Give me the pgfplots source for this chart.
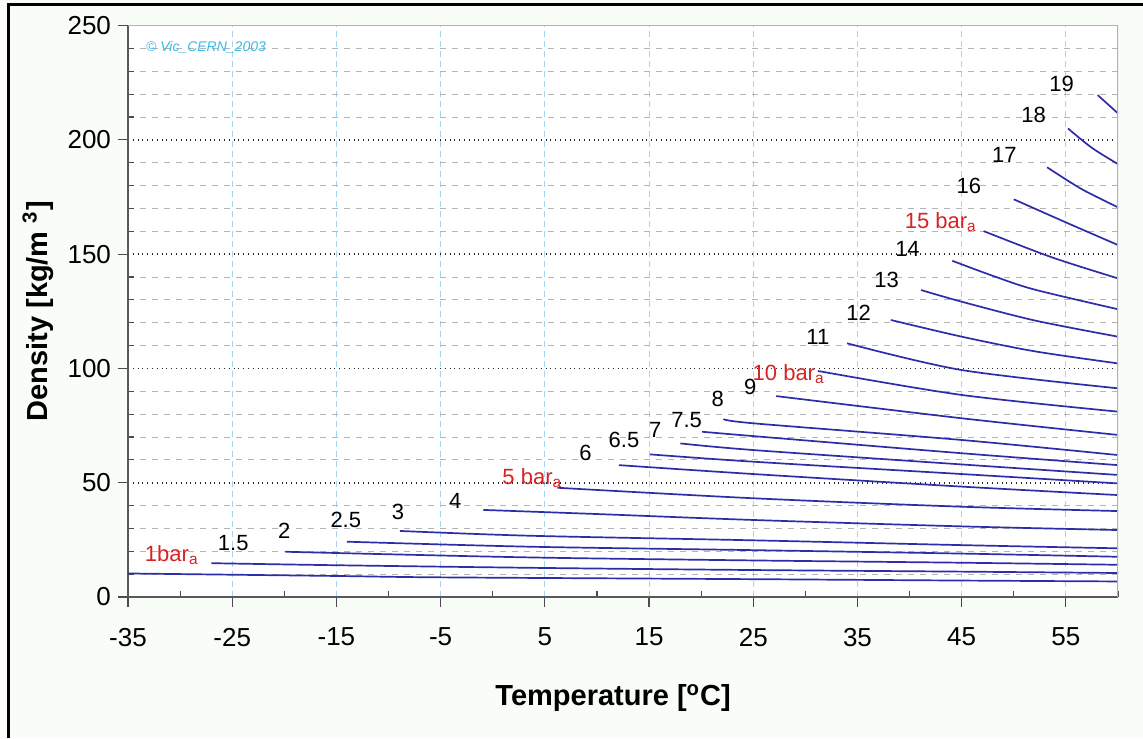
\documentclass[border=0pt]{standalone}
\usepackage{fontspec}
\setmainfont{Liberation Sans}
\usepackage{pgfplots}
\pgfplotsset{compat=1.18}
\definecolor{isoblue}{RGB}{45,45,170}
\definecolor{gridblue}{RGB}{165,212,240}
\definecolor{gridgray}{RGB}{180,180,180}
\definecolor{redlab}{RGB}{215,35,35}
\definecolor{wm}{RGB}{60,185,230}
\definecolor{bgc}{RGB}{249,253,247}
\tikzset{iso/.style={draw=isoblue, line width=0.85pt, solid, mark=none, smooth, tension=0.5}}
\begin{document}
\begin{tikzpicture}
\fill[bgc] (-64pt,-70.5pt) rectangle (507.5pt,298.5pt);
\fill[white] (0,0) rectangle (495pt,285.7pt);
\begin{axis}[
  scale only axis, width=495pt, height=285.7pt,
  xmin=-35, xmax=60, ymin=0, ymax=250,
  axis x line*=bottom, axis y line*=left,
  axis line style={draw=black!65, line width=0.8pt, -},
  xtick={-35,-25,...,55}, minor xtick={-30,-20,...,60},
  ytick={0,50,...,250},
  minor ytick={10,20,30,40,60,70,80,90,110,120,130,140,160,170,180,190,210,220,230,240},
  xmajorgrids, ymajorgrids, yminorgrids,
  major x grid style={gridblue, densely dashed, line width=0.5pt},
  major y grid style={black!85, dotted, line width=0.9pt},
  minor y grid style={gridgray, dashed, line width=0.4pt},
  tick align=outside, major tick length=5pt, minor tick length=-3pt,
  tick style={black!70, line width=0.6pt},
  /pgf/number format/assume math mode=true,
  ticklabel style={font=\fontsize{13}{15}\selectfont},
  xticklabel style={yshift=-7pt},
  xlabel={\textbf{Temperature [\textsuperscript{o}C]}},
  ylabel={\textbf{Density [kg/m \textsuperscript{3}]}},
  label style={font=\fontsize{14.5}{17}\selectfont},
  xlabel style={at={(axis description cs:0.49,-0.177)}, anchor=center},
  ylabel style={at={(axis description cs:-0.091,0.5)}, anchor=center},
]
% isobars (bar abs)
\addplot[iso] coordinates {(-35,10.3) (-15,9.2) (-5,8.6) (25,7.8) (45,7.2) (60,6.8)};
\addplot[iso] coordinates {(-27,14.8) (-15,13.9) (5,12.7) (25,11.8) (45,11.1) (60,10.5)};
\addplot[iso] coordinates {(-19.9,19.8) (-10,18.7) (5,17.2) (25,16.0) (45,15.0) (60,14.1)};
\addplot[iso] coordinates {(-14.0,24.2) (3.6,22.0) (25,20.5) (45,19.0) (60,17.6)};
\addplot[iso] coordinates {(-8.9,28.9) (3.6,26.8) (25,24.8) (45,22.7) (60,21.3)};
\addplot[iso] coordinates {(-0.9,38.1) (10,36.3) (25,33.7) (45,30.9) (60,29.3)};
\addplot[iso] coordinates {(6.2,47.8) (25,43.2) (45,39.5) (60,37.6)};
\addplot[iso] coordinates {(12.1,57.7) (25,53.8) (45,48.3) (60,44.6)};
\addplot[iso] coordinates {(15.1,62.4) (25,59.2) (45,53.8) (60,49.7)};
\addplot[iso] coordinates {(18.0,67.2) (25,64.3) (45,58.0) (60,53.4)};
\addplot[iso] coordinates {(20.1,72.3) (25,70.4) (45,62.9) (60,57.7)};
\addplot[iso] coordinates {(22.2,77.9) (25,76.0) (45,68.7) (60,62.1)};
\addplot[iso] coordinates {(27.2,87.9) (45,78.2) (60,70.9)};
\addplot[iso] coordinates {(31.2,98.9) (45,88.4) (60,81.1)};
\addplot[iso] coordinates {(34.0,111.0) (45,99.3) (60,91.3)};
\addplot[iso] coordinates {(38.2,121.2) (45,113.9) (52,107.5) (60,102.2)};
\addplot[iso] coordinates {(41.1,134.3) (45,129.2) (52,121.0) (60,113.9)};
\addplot[iso] coordinates {(44.1,147.1) (48,140.5) (52,134.5) (60,125.9)};
\addplot[iso] coordinates {(47.1,160.1) (53.6,148.7) (60,139.4)};
\addplot[iso] coordinates {(50.0,174.0) (55.2,163.5) (60,154.0)};
\addplot[iso] coordinates {(53.2,188.0) (56.5,178.5) (60,170.5)};
\addplot[iso] coordinates {(55.2,205.0) (57.5,196.5) (60,189.4)};
\addplot[iso] coordinates {(58.05,219.6) (60,211.6)};
% top/right frame of the axis
\draw[black!30, line width=0.6pt] (rel axis cs:0,1) -- (rel axis cs:1,1) -- (rel axis cs:1,0);
% labels
\begin{scope}[every node/.style={font=\fontsize{11}{13}\selectfont, inner sep=0.5pt}]
\node[text=redlab] at (axis cs:-30.8,18.4) {1bar\textsubscript{a}};
\node at (axis cs:-24.9,23.6) {1.5};
\node at (axis cs:-20.0,28.9) {2};
\node at (axis cs:-14.1,33.7) {2.5};
\node at (axis cs:-9.1,37.2) {3};
\node at (axis cs:-3.6,42.0) {4};
\node[text=redlab] at (axis cs:3.8,52.1) {5 bar\textsubscript{a}};
\node at (axis cs:8.9,63.0) {6};
\node at (axis cs:12.6,68.7) {6.5};
\node at (axis cs:15.6,73.1) {7};
\node at (axis cs:18.6,77.4) {7.5};
\node at (axis cs:21.6,86.6) {8};
\node at (axis cs:24.7,91.9) {9};
\node[text=redlab] at (axis cs:28.4,97.5) {10 bar\textsubscript{a}};
\node at (axis cs:31.2,113.7) {11};
\node at (axis cs:35.1,124.2) {12};
\node at (axis cs:37.8,138.7) {13};
\node at (axis cs:39.8,152.2) {14};
\node[text=redlab] at (axis cs:43.0,164.0) {15 bar\textsubscript{a}};
\node at (axis cs:45.7,179.8) {16};
\node at (axis cs:49.1,193.4) {17};
\node at (axis cs:51.9,210.8) {18};
\node at (axis cs:54.6,224.4) {19};
\end{scope}
\node[anchor=west, text=wm, font=\itshape\fontsize{7}{8}\selectfont, inner sep=0pt] at (axis cs:-33.3,240.7) {\textcopyright\ Vic\_CERN\_2003};
\end{axis}
\draw[black, line width=1.5pt] (-59.5pt,-70.5pt) -- (-59.5pt,296pt) -- (507.5pt,296pt);
\pgfresetboundingbox
\path (-64pt,-70.5pt) rectangle (507.5pt,298.5pt);
\end{tikzpicture}
\end{document}
